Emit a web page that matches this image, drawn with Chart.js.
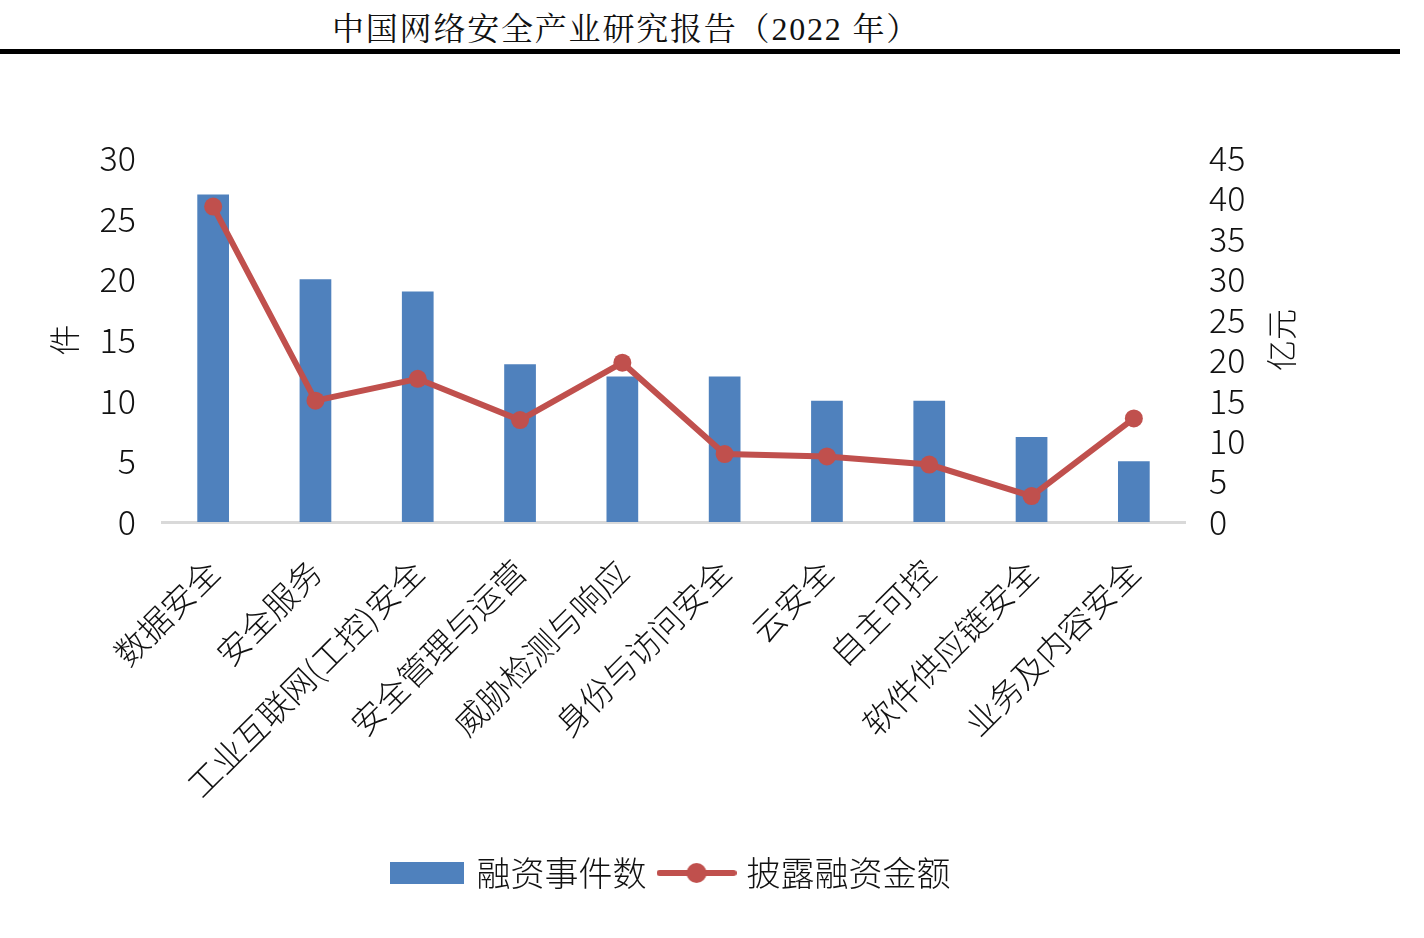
<!DOCTYPE html>
<html>
<head>
<meta charset="utf-8">
<script src="https://cdn.jsdelivr.net/npm/chart.js@4.4.1/dist/chart.umd.min.js"></script>
<style>
  body { margin: 0; background: #fff; width: 1424px; height: 938px; overflow: hidden; position: relative; }
  #title {
    position: absolute; left: 332px; top: 3px; white-space: nowrap; letter-spacing: 1.8px;
    font: 32px "Liberation Serif", "Noto Serif CJK SC", "Noto Sans CJK SC", serif; color: #111;
  }
  #rule { position: absolute; left: 0; top: 49px; width: 1400px; height: 5px; background: #000; }
  #chart { position: absolute; left: 0; top: 0; }
</style>
</head>
<body>
<div id="title">中国网络安全产业研究报告（2022 年）</div>
<div id="rule"></div>
<canvas id="chart" width="1424" height="938"></canvas>
<script>
const categories = ['数据安全', '安全服务', '工业互联网(工控)安全', '安全管理与运营', '威胁检测与响应',
  '身份与访问安全', '云安全', '自主可控', '软件供应链安全', '业务及内容安全'];
const eventCounts = [27, 20, 19, 13, 12, 12, 10, 10, 7, 5];
const amounts = [39, 15, 17.7, 12.6, 19.7, 8.4, 8.1, 7.1, 3.2, 12.8];
const leftTicks = [0, 30, 5];
const rightTicks = [0, 45, 5];
const seriesNames = ['融资事件数', '披露融资金额'];
const axisTitles = ['件', '亿元'];

const BLUE = '#4f81bd';
const RED = '#c0504d';
const FONT = '"Noto Sans CJK SC", "Noto Sans", sans-serif';

// legend swatches
function barSwatch() {
  const c = document.createElement('canvas');
  c.width = 74; c.height = 22;
  const g = c.getContext('2d');
  g.fillStyle = BLUE;
  g.fillRect(0, 0, 74, 22);
  return c;
}
function lineSwatch() {
  const c = document.createElement('canvas');
  c.width = 80; c.height = 22;
  const g = c.getContext('2d');
  g.strokeStyle = RED; g.lineWidth = 6; g.lineCap = 'round';
  g.beginPath(); g.moveTo(3, 11); g.lineTo(77, 11); g.stroke();
  g.fillStyle = RED;
  g.beginPath(); g.arc(40, 11, 10, 0, Math.PI * 2); g.fill();
  return c;
}
const swatches = [barSwatch(), lineSwatch()];

const rightTitle = {
  id: 'rightTitle',
  afterDraw(chart) {
    const ctx = chart.ctx;
    const s = chart.scales.y1;
    ctx.save();
    ctx.translate(s.left + 96, (chart.chartArea.top + chart.chartArea.bottom) / 2);
    ctx.rotate(-Math.PI / 2);
    ctx.font = '300 31px ' + FONT;
    ctx.fillStyle = '#111';
    ctx.textAlign = 'center';
    ctx.textBaseline = 'middle';
    ctx.fillText(axisTitles[1], 0, 0);
    ctx.restore();
  }
};

new Chart(document.getElementById('chart'), {
  data: {
    labels: categories,
    datasets: [
      {
        type: 'line',
        label: seriesNames[1],
        data: amounts,
        yAxisID: 'y1',
        borderColor: RED,
        backgroundColor: RED,
        borderWidth: 6,
        pointRadius: 9,
        pointHoverRadius: 9,
        pointBackgroundColor: RED,
        pointBorderWidth: 0,
        tension: 0,
        order: 0
      },
      {
        type: 'bar',
        label: seriesNames[0],
        data: eventCounts,
        yAxisID: 'y',
        backgroundColor: BLUE,
        categoryPercentage: 1,
        barPercentage: 0.31,
        order: 1
      }
    ]
  },
  options: {
    responsive: false,
    animation: false,
    layout: { padding: { top: 158, right: 80, left: 0, bottom: 38 } },
    plugins: {
      tooltip: { enabled: false },
      legend: {
        position: 'bottom',
        labels: {
          usePointStyle: true,
          pointStyleWidth: 66,
          padding: 17,
          color: '#111',
          font: { family: FONT, size: 34, weight: 300 },
          generateLabels(chart) {
            return [1, 0].map(i => ({
              text: chart.data.datasets[i].label,
              pointStyle: i === 1 ? swatches[0] : swatches[1],
              fillStyle: chart.data.datasets[i].backgroundColor,
              strokeStyle: chart.data.datasets[i].backgroundColor,
              lineWidth: 0,
              fontColor: '#111',
              hidden: !chart.isDatasetVisible(i),
              datasetIndex: i
            }));
          }
        }
      }
    },
    scales: {
      x: {
        grid: { display: false },
        border: { color: '#d9d9d9', width: 3 },
        ticks: {
          color: '#111',
          font: { family: FONT, size: 33, weight: 300 },
          minRotation: 45,
          maxRotation: 45,
          autoSkip: false,
          padding: 22
        },
        afterFit(scale) { scale.height = 317; }
      },
      y: {
        position: 'left',
        min: leftTicks[0],
        max: leftTicks[1],
        grid: { display: false },
        border: { display: false },
        ticks: {
          stepSize: leftTicks[2],
          autoSkip: false,
          color: '#111',
          padding: 18,
          font: { family: FONT, size: 34, weight: 300 }
        },
        title: {
          display: true,
          text: axisTitles[0],
          color: '#111',
          font: { family: FONT, size: 31, weight: 300 },
          padding: { top: 46, bottom: 0 }
        },
        afterFit(scale) { scale.width = 162; }
      },
      y1: {
        position: 'right',
        min: rightTicks[0],
        max: rightTicks[1],
        grid: { display: false },
        border: { display: false },
        ticks: {
          stepSize: rightTicks[2],
          autoSkip: false,
          color: '#111',
          padding: 16,
          font: { family: FONT, size: 34, weight: 300 }
        },
        afterFit(scale) { scale.width = 159; }
      }
    }
  },
  plugins: [rightTitle]
});
</script>
</body>
</html>
